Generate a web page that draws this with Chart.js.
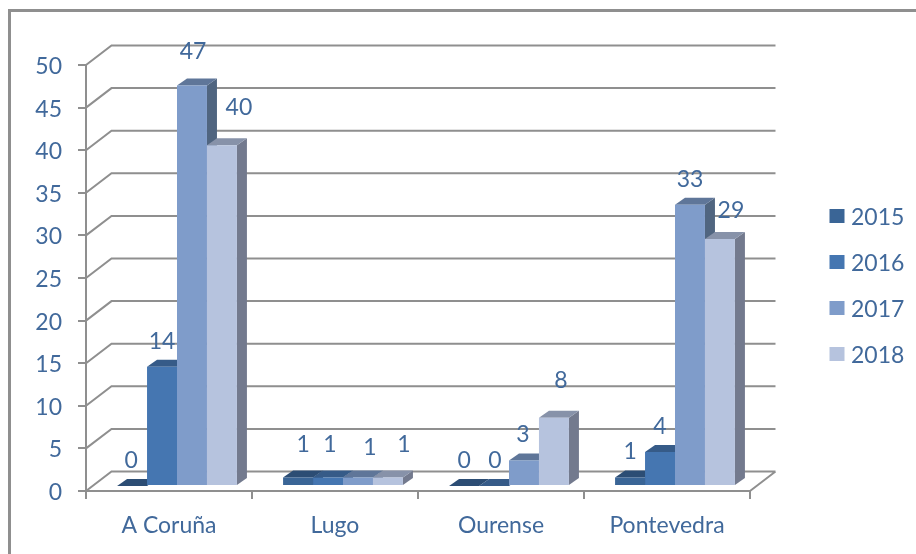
<!DOCTYPE html>
<html>
<head>
<meta charset="utf-8">
<title>Chart</title>
<script src="https://cdn.jsdelivr.net/npm/chart.js@4/dist/chart.umd.min.js"></script>
<style>
  html, body { margin: 0; padding: 0; background: #fff; }
  #wrap { width: 916px; height: 554px; }
  canvas { filter: blur(0.5px); }
</style>
</head>
<body>
<div id="wrap"><canvas id="chart"></canvas></div>
<script>
const categories = ['A Coruña', 'Lugo', 'Ourense', 'Pontevedra'];
const years = ['2015', '2016', '2017', '2018'];
const values2015 = [0, 1, 0, 1];
const values2016 = [14, 1, 0, 4];
const values2017 = [47, 1, 3, 33];
const values2018 = [40, 1, 8, 29];

const frontColors = ['#3A6596', '#4576B1', '#7F9CCA', '#B6C3DE'];
const topColors = ['#2C4D74', '#365B88', '#5F7699', '#8792A9'];
const sideColors = ['#2A4766', '#34557C', '#506580', '#737A8E'];
const textColor = '#41699B';
const lineColor = '#8F8F8F';
const fontFamily = 'Lato, "Open Sans", sans-serif';
const fontSize = 23;

// 3D look: back wall offset, bar plane offset, bar depth
const wall = { dx: 25.5, dy: -19.5 };
const plane = { dx: 8, dy: -5 };
const depth = { dx: 10, dy: -7 };

// labels were dragged around by hand in the original, [dx, dy] per year and category
const labelNudge = [
  [[-1, 0], [5, -7], [0, 0], [0, 0]],
  [[0, 0], [2, -7], [1, 0], [0, 0]],
  [[1, -8], [12, -4], [-1, 0], [0, 0]],
  [[17, -12], [16, -7], [7, -12], [11, -3]]
];

const plugin3d = {
  id: 'plugin3d',
  beforeDraw(chart) {
    // outer frame, only left and top are inside the crop
    const ctx = chart.ctx;
    ctx.save();
    ctx.strokeStyle = lineColor;
    ctx.lineWidth = 3;
    ctx.beginPath();
    ctx.moveTo(9.5, chart.height);
    ctx.lineTo(9.5, 10.5);
    ctx.lineTo(chart.width, 10.5);
    ctx.stroke();
    ctx.restore();
  },
  beforeDatasetsDraw(chart) {
    const ctx = chart.ctx;
    const area = chart.chartArea;
    const y = chart.scales.y;
    // wall and floor grid
    ctx.save();
    ctx.strokeStyle = lineColor;
    ctx.lineWidth = 2;
    ctx.beginPath();
    y.ticks.forEach(t => {
      const py = y.getPixelForValue(t.value);
      ctx.moveTo(area.left, py);
      ctx.lineTo(area.left + wall.dx, py + wall.dy);
      ctx.lineTo(area.right + wall.dx, py + wall.dy);
    });
    ctx.moveTo(area.right, area.bottom);
    ctx.lineTo(area.right + wall.dx, area.bottom + wall.dy);
    ctx.stroke();
    ctx.restore();

    // side and top faces left to right, the library then paints the fronts over them
    ctx.save();
    ctx.translate(plane.dx, plane.dy);
    chart.data.datasets.forEach((ds, i) => {
      chart.getDatasetMeta(i).data.forEach(bar => {
        const left = bar.x - bar.width / 2;
        const right = bar.x + bar.width / 2;
        ctx.fillStyle = sideColors[i];
        ctx.beginPath();
        ctx.moveTo(right, bar.y);
        ctx.lineTo(right + depth.dx, bar.y + depth.dy);
        ctx.lineTo(right + depth.dx, bar.base + depth.dy);
        ctx.lineTo(right, bar.base);
        ctx.closePath();
        ctx.fill();
        ctx.fillStyle = topColors[i];
        ctx.beginPath();
        ctx.moveTo(left, bar.y);
        ctx.lineTo(left + depth.dx, bar.y + depth.dy);
        ctx.lineTo(right + depth.dx, bar.y + depth.dy);
        ctx.lineTo(right, bar.y);
        ctx.closePath();
        ctx.fill();
      });
    });
    ctx.restore();
  },
  beforeDatasetDraw(chart) {
    chart.ctx.save();
    chart.ctx.translate(plane.dx, plane.dy);
  },
  afterDatasetDraw(chart) {
    chart.ctx.restore();
  },
  afterDatasetsDraw(chart) {
    const ctx = chart.ctx;
    ctx.save();
    ctx.font = fontSize + 'px ' + fontFamily;
    ctx.textBaseline = 'middle';
    ctx.fillStyle = textColor;
    ctx.textAlign = 'center';
    chart.data.datasets.forEach((ds, i) => {
      chart.getDatasetMeta(i).data.forEach((bar, j) => {
        const nudge = labelNudge[i][j];
        ctx.fillText(ds.data[j], bar.x + plane.dx + nudge[0], bar.y + plane.dy - 25.5 + nudge[1]);
      });
    });
    // legend
    ctx.textAlign = 'left';
    years.forEach((year, i) => {
      const py = 216 + i * 46;
      ctx.fillStyle = frontColors[i];
      ctx.fillRect(829.5, py - 7, 15, 14);
      ctx.fillStyle = textColor;
      ctx.fillText(year, 851, py + 1.5);
    });
    ctx.restore();
  }
};

const seriesValues = [values2015, values2016, values2017, values2018];

new Chart(document.getElementById('chart').getContext('2d'), {
  type: 'bar',
  plugins: [plugin3d],
  data: {
    labels: categories,
    datasets: years.map((year, i) => ({
      label: year,
      data: seriesValues[i],
      backgroundColor: frontColors[i],
      borderWidth: 0,
      categoryPercentage: 0.722,
      barPercentage: 1,
      clip: false
    }))
  },
  options: {
    responsive: true,
    maintainAspectRatio: false,
    animation: false,
    events: [],
    layout: { padding: { top: 65, right: 166, left: 0, bottom: 0 } },
    plugins: {
      legend: { display: false },
      tooltip: { enabled: false }
    },
    scales: {
      x: {
        afterFit(scale) { scale.height = 63; },
        grid: { drawOnChartArea: false, color: lineColor, lineWidth: 2, tickLength: 8 },
        border: { color: lineColor, width: 2 },
        ticks: { color: textColor, font: { family: fontFamily, size: fontSize }, padding: 13, maxRotation: 0 }
      },
      y: {
        min: 0,
        max: 50,
        afterFit(scale) { scale.width = 86; },
        grid: { drawOnChartArea: false, color: lineColor, lineWidth: 2, tickLength: 8 },
        border: { color: lineColor, width: 2 },
        ticks: { stepSize: 5, color: textColor, font: { family: fontFamily, size: fontSize }, padding: 16, labelOffset: 1.5 }
      }
    }
  }
});
</script>
</body>
</html>
